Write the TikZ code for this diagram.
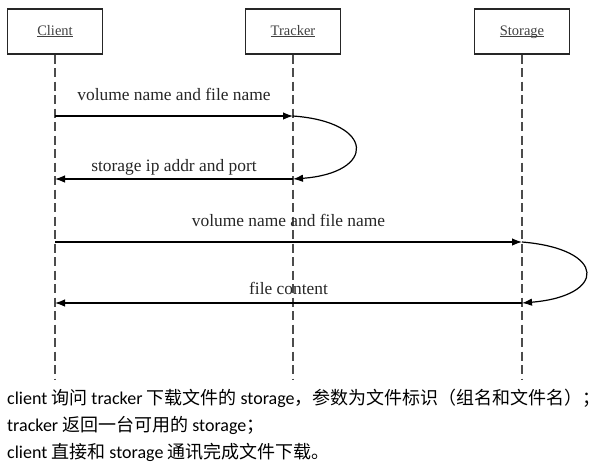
\documentclass[tikz,border=0pt]{standalone}
\usepackage{fontspec}
\setmainfont{Liberation Serif}
\newfontfamily\bt{Carlito}
\newfontfamily\cjk{Noto Sans CJK SC}
\usetikzlibrary{arrows.meta}
\newcommand\Z[1]{{\cjk #1}}
\newcommand\myul[1]{\setbox0\hbox{#1}\rlap{\rule[-1.6pt]{\wd0}{0.8pt}}\box0}
\begin{document}
\begin{tikzpicture}[x=1pt,y=-1pt,
 actor/.style={draw=black!85, line width=1.1pt, minimum width=95pt, minimum height=45pt, inner sep=0pt, text height=10pt, text depth=3pt, font=\fontsize{14.5}{16}\selectfont, text=black!75},
 life/.style={draw=black!70, line width=1.3pt, dash pattern=on 9pt off 4.5pt},
 msg/.style={draw=black, line width=1.2pt, -{Latex[length=10pt,width=7.5pt]}},
 lbl/.style={inner sep=0pt, anchor=base, font=\fontsize{17.4}{19}\selectfont, text=black!85},
 note/.style={inner sep=0pt, anchor=base west, font=\bt\fontsize{18}{20}\selectfont}]
\useasboundingbox (0,0) rectangle (609,467);
% actors
\node[actor] (c) at (55,31.5) {\myul{Client}};
\node[actor] (t) at (293,31.5) {\myul{Tracker}};
\node[actor] (s) at (522,31.5) {\myul{Storage}};
% lifelines
\coordinate (ce) at (55,379);
\coordinate (te) at (293,379);
\coordinate (se) at (522,379);
\draw[life] (c.south) -- (ce);
\draw[life] (t.south) -- (te);
\draw[life] (s.south) -- (se);
% message anchors
\coordinate (c1) at (55,116);  \coordinate (t1) at (293,116);
\coordinate (t2) at (293,179); \coordinate (c2) at (55,179);
\coordinate (c3) at (55,242);  \coordinate (s3) at (522,242);
\coordinate (s4) at (522,303); \coordinate (c4) at (55,303);
% messages
\draw[msg] (c1) -- (t1);
\draw[msg] (t1) .. controls (376,122) and (376,173) .. (t2);
\draw[msg] (t2) -- (c2);
\draw[msg] (c3) -- (s3);
\draw[msg] (s3) .. controls (607,249) and (607,296) .. (s4);
\draw[msg] (s4) -- (c4);
% labels
\node[lbl] (l1) at (174,100.5) {volume name and file name};
\node[lbl] (l2) at (174,171) {storage ip addr and port};
\node[lbl] (l3) at (288.5,226) {volume name and file name};
\node[lbl] (l4) at (288.5,294) {file content};
% notes
\node[note] (n1) at (7,404) {client \Z{询问} tracker \Z{下载文件的} storage\Z{，参数为文件标识（组名和文件名）；}};
\node[note] (n2) at (7,431) {tracker \Z{返回一台可用的} storage\Z{；}};
\node[note] (n3) at (7,458) {client \Z{直接和} storage \Z{通讯完成文件下载。}};
\end{tikzpicture}
\end{document}
